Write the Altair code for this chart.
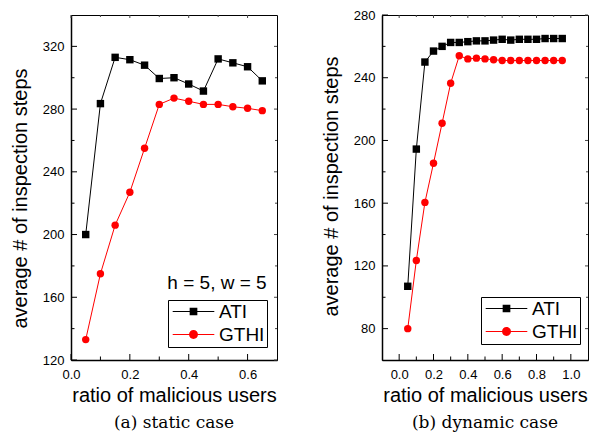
import altair as alt
import pandas as pd

# ---------------- data ----------------
series_names = ["ATI", "GTHI"]
series_colors = ["black", "red"]

x_static = [0.05, 0.10, 0.15, 0.20, 0.25, 0.30, 0.35, 0.40, 0.45, 0.50, 0.55, 0.60, 0.65]
ati_static = [200, 283.5, 313, 311.5, 308, 299.5, 300, 296, 291.5, 312, 309.5, 307, 298]
gthi_static = [133, 175, 206, 227, 255, 283, 287, 285, 283, 283, 281.5, 280.5, 279]

x_dynamic = [0.05, 0.10, 0.15, 0.20, 0.25, 0.30, 0.35, 0.40, 0.45, 0.50,
             0.55, 0.60, 0.65, 0.70, 0.75, 0.80, 0.85, 0.90, 0.95]
ati_dynamic = [107, 194.5, 250, 257, 260, 262.5, 262.5, 263, 263.5, 263.5,
               264, 264.5, 264, 264.5, 264.5, 264.5, 265, 265, 265]
gthi_dynamic = [80, 123.5, 160.5, 185.5, 211, 236.5, 254, 252, 252.5, 252,
                251.5, 251, 251, 251, 251, 251, 251, 251, 251]

static_x_labels = [0.0, 0.2, 0.4, 0.6]
static_x_minor = [0.1, 0.3, 0.5]
static_y_labels = [120, 160, 200, 240, 280, 320]
static_y_minor = [140, 180, 220, 260, 300]

dynamic_x_labels = [0.0, 0.2, 0.4, 0.6, 0.8, 1.0]
dynamic_x_minor = [0.1, 0.3, 0.5, 0.7, 0.9]
dynamic_y_labels = [80, 120, 160, 200, 240, 280]
dynamic_y_minor = [100, 140, 180, 220, 260]

x_title = "ratio of malicious users"
y_title = "average # of inspection steps"
captions = ["(a)  static case", "(b)  dynamic case"]
annotation = ["h = 5, w = 5"]

SANS = "Liberation Sans"
W, H = 206, 345

# legend symbols: a line segment with the marker on it (custom paths)
path_ati = "M-2.6,-0.07H2.6V0.07H-2.6Z M-0.48,-0.48H0.48V0.48H-0.48Z"
path_gthi = ("M-2.6,-0.07H2.6V0.07H-2.6Z "
             "M0.56,0A0.56,0.56 0 1,1 -0.56,0A0.56,0.56 0 1,1 0.56,0Z")


def long_df(xs, a, g):
    rows = [{"x": x, "y": y, "series": "ATI"} for x, y in zip(xs, a)]
    rows += [{"x": x, "y": y, "series": "GTHI"} for x, y in zip(xs, g)]
    return pd.DataFrame(rows)


def panel(df, xdom, ydom, xlab, xmin, ylab, ymin, caption, legx, legy, title_y,
          note=None):
    xs = alt.Scale(domain=xdom, nice=False, zero=False)
    ys = alt.Scale(domain=ydom, nice=False, zero=False)
    xax = alt.Axis(values=xlab, format=".1f", title=x_title, ticks=False, grid=False,
                   labelFontSize=13, titleFontSize=20, labelPadding=8, titlePadding=4.5,
                   labelFlush=False)
    yax = alt.Axis(values=ylab, format="d", title=y_title, ticks=False, grid=False,
                   labelFontSize=13, titleFontSize=20, labelPadding=7, titlePadding=12,
                   titleY=title_y)
    X = alt.X("x:Q", scale=xs, axis=xax)
    Y = alt.Y("y:Q", scale=ys, axis=yax)

    base = alt.Chart(df)
    layers = []
    for s, col, shp in [("ATI", "black", "square"), ("GTHI", "red", "circle")]:
        sub = base.transform_filter(alt.datum.series == s)
        layers.append(sub.mark_line(color=col, strokeWidth=1).encode(x=X, y=Y))
        layers.append(sub.mark_point(shape=shp, filled=True, color=col, size=55,
                                     opacity=1).encode(x=X, y=Y))

    # inward ticks (left/bottom long, top/right short)
    def yt(vals, a, b, col):
        return alt.Chart(pd.DataFrame({"v": vals})).mark_rule(color=col, strokeWidth=1).encode(
            y=alt.Y("v:Q", scale=ys, axis=yax), x=alt.value(a), x2=alt.value(b))

    def xt(vals, a, b, col):
        return alt.Chart(pd.DataFrame({"v": vals})).mark_rule(color=col, strokeWidth=1).encode(
            x=alt.X("v:Q", scale=xs, axis=xax), y=alt.value(a), y2=alt.value(b))

    layers += [
        yt(ylab, 0, 6, "black"), yt(ymin, 0, 3.5, "black"),
        yt(ylab, W - 3, W, "#444"), yt(ymin, W - 2, W, "#444"),
        xt(xlab, H - 6, H, "black"), xt(xmin, H - 3.5, H, "black"),
        xt(xlab, 0, 3, "#444"), xt(xmin, 0, 2, "#444"),
    ]

    leg = alt.Legend(title=None, orient="none", legendX=legx, legendY=legy,
                     strokeColor="black", fillColor="white", padding=2,
                     labelFont=SANS, labelFontSize=19, labelColor="black",
                     symbolSize=256, symbolOpacity=1, symbolStrokeWidth=0,
                     symbolOffset=14, rowPadding=3, labelOffset=16)
    layers.append(base.mark_point(filled=True, opacity=0, size=1).encode(
        x=X, y=Y,
        color=alt.Color("series:N", scale=alt.Scale(domain=series_names, range=series_colors),
                        legend=leg),
        shape=alt.Shape("series:N", scale=alt.Scale(domain=series_names,
                                                    range=[path_ati, path_gthi]),
                        legend=leg),
    ))

    if note is not None:
        layers.append(alt.Chart(pd.DataFrame({"t": note})).mark_text(
            font=SANS, fontSize=19, color="black", align="center", baseline="middle"
        ).encode(text="t:N", x=alt.value(146), y=alt.value(268)))

    return alt.layer(*layers).properties(
        width=W, height=H,
        title=alt.TitleParams(caption, orient="bottom", font="DejaVu Serif", fontSize=17,
                              fontWeight="normal", color="black", offset=9.5),
    )


left = panel(long_df(x_static, ati_static, gthi_static), [0, 0.7], [120, 340],
             static_x_labels, static_x_minor, static_y_labels, static_y_minor,
             captions[0], 97, 285, 183, annotation)
right = panel(long_df(x_dynamic, ati_dynamic, gthi_dynamic), [-0.1, 1.1], [60, 280],
              dynamic_x_labels, dynamic_x_minor, dynamic_y_labels, dynamic_y_minor,
              captions[1], 99, 282, 171)

chart = alt.hconcat(left, right, spacing=42).resolve_scale(
    color="independent", shape="independent"
).resolve_legend(color="independent", shape="independent").properties(
    padding={"left": 1, "top": 0, "right": 0, "bottom": 0}
).configure_view(stroke="black", strokeWidth=1).configure_axis(
    domainColor="black", domainWidth=1.5, labelColor="black", titleColor="black",
    labelFont=SANS, titleFont=SANS, titleFontWeight="normal"
).configure_legend(strokeWidth=1)

chart.save("out.html", embed_options={"renderer": "svg", "actions": False})
